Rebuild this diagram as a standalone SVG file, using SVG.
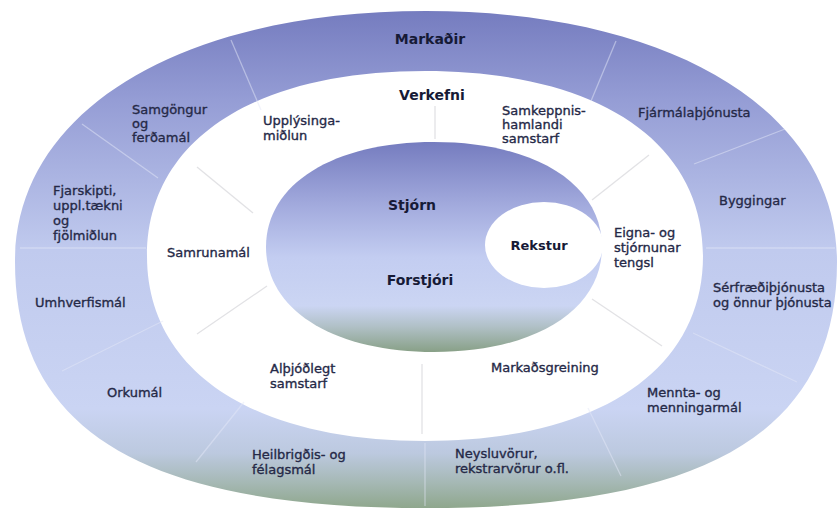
<svg xmlns="http://www.w3.org/2000/svg" width="839" height="508" viewBox="0 0 839 508">
  <defs>
    <!-- vertical fill: violet-blue at the top, pale blue in the middle, grey-green at the foot -->
    <linearGradient id="ringFill" gradientUnits="userSpaceOnUse" x1="0" y1="11" x2="0" y2="508">
      <stop offset="0" stop-color="#757cbf"/>
      <stop offset="0.18" stop-color="#959dd5"/>
      <stop offset="0.48" stop-color="#c0caee"/>
      <stop offset="0.8" stop-color="#cad4f3"/>
      <stop offset="0.89" stop-color="#bcc9df"/>
      <stop offset="0.95" stop-color="#a5b8b4"/>
      <stop offset="1" stop-color="#8fa78d"/>
    </linearGradient>
    <linearGradient id="coreFill" gradientUnits="userSpaceOnUse" x1="0" y1="142" x2="0" y2="352">
      <stop offset="0" stop-color="#757cbf"/>
      <stop offset="0.3" stop-color="#a2aadd"/>
      <stop offset="0.55" stop-color="#c3cdf1"/>
      <stop offset="0.78" stop-color="#cbd5f3"/>
      <stop offset="0.88" stop-color="#b0c0c6"/>
      <stop offset="1" stop-color="#88a087"/>
    </linearGradient>
    <style>
      .lbl { font-family: "DejaVu Sans", "Liberation Sans", sans-serif; font-size: 13px; fill: #252947; stroke: #252947; stroke-width: 0.35px; }
      .ttl { font-family: "DejaVu Sans", "Liberation Sans", sans-serif; font-size: 14px; font-weight: bold; fill: #161a36; text-anchor: middle; }
      .div-ring { stroke: #e4e8f7; stroke-width: 1.3; stroke-opacity: 0.5; fill: none; }
      .div-white { stroke: #e2e2e5; stroke-width: 1.3; fill: none; }
    </style>
  </defs>

  <rect width="839" height="508" fill="#ffffff"/>

  <!-- outer band: Markaðir -->
  <g id="markets-ring">
    <path fill="url(#ringFill)" fill-rule="evenodd"
      d="M 426,11 C 179.4,11 15,111.4 15,262 C 15,434 149,508 426,508 C 703,508 837,434 837,262 C 837,111.4 672.6,11 426,11 Z
         M 425,71 C 252.6,71 147,141.3 147,256 C 147,370.7 252.6,441 425,441 C 597.4,441 703,370.7 703,256 C 703,141.3 597.4,71 425,71 Z"/>
  </g>

  <!-- core: Stjórn / Forstjóri with the Rekstur cut-out -->
  <g id="core">
    <path fill="url(#coreFill)"
      d="M 434,142 C 333.2,142 266,184 266,247 C 266,310 333.2,352 434,352 C 534.8,352 602,310 602,247 C 602,184 534.8,142 434,142 Z"/>
  </g>
  <g id="rekstur">
    <ellipse cx="544" cy="245" rx="59" ry="43" fill="#ffffff"/>
    <text class="ttl" x="539" y="250" style="font-size:13px">Rekstur</text>
  </g>

  <!-- sector dividers -->
  <g id="connectors">
    <line class="div-ring" x1="231" y1="40" x2="261" y2="110"/>
    <line class="div-ring" x1="82" y1="124" x2="158" y2="178"/>
    <line class="div-ring" x1="20" y1="248" x2="146" y2="248"/>
    <line class="div-ring" x1="62" y1="371" x2="163" y2="321"/>
    <line class="div-ring" x1="196" y1="462" x2="244" y2="402"/>
    <line class="div-ring" x1="425" y1="443" x2="425" y2="506"/>
    <line class="div-ring" x1="588" y1="408" x2="621" y2="476"/>
    <line class="div-ring" x1="693" y1="333" x2="797" y2="382"/>
    <line class="div-ring" x1="706" y1="248" x2="835" y2="248"/>
    <line class="div-ring" x1="694" y1="164" x2="785" y2="129"/>
    <line class="div-ring" x1="616" y1="41" x2="591" y2="101"/>

    <line class="div-white" x1="435" y1="106" x2="435" y2="139"/>
    <line class="div-white" x1="197" y1="167" x2="253" y2="213"/>
    <line class="div-white" x1="267" y1="286" x2="197" y2="334"/>
    <line class="div-white" x1="422" y1="364" x2="422" y2="434"/>
    <line class="div-white" x1="592" y1="299" x2="662" y2="346"/>
    <line class="div-white" x1="649" y1="155" x2="592" y2="200"/>
  </g>

  <!-- titles -->
  <g id="markadir"><text class="ttl" x="430" y="44">Markaðir</text></g>
  <g id="verkefni"><text class="ttl" x="432" y="100">Verkefni</text></g>
  <g id="stjorn"><text class="ttl" x="412" y="210">Stjórn</text></g>
  <g id="forstjori"><text class="ttl" x="420" y="285">Forstjóri</text></g>

  <!-- outer band sectors -->
  <g id="samgongur">
    <text class="lbl"><tspan x="132" y="114">Samgöngur</tspan><tspan x="132" y="128">og</tspan><tspan x="132" y="142">ferðamál</tspan></text>
  </g>
  <g id="fjarskipti">
    <text class="lbl"><tspan x="53" y="195">Fjarskipti,</tspan><tspan x="53" y="210">uppl.tækni</tspan><tspan x="53" y="225">og</tspan><tspan x="53" y="240">fjölmiðlun</tspan></text>
  </g>
  <g id="umhverfismal"><text class="lbl" x="35" y="307">Umhverfismál</text></g>
  <g id="orkumal"><text class="lbl" x="107" y="397">Orkumál</text></g>
  <g id="heilbrigdis">
    <text class="lbl"><tspan x="252" y="459">Heilbrigðis- og</tspan><tspan x="252" y="474">félagsmál</tspan></text>
  </g>
  <g id="neysluvorur">
    <text class="lbl"><tspan x="455" y="458">Neysluvörur,</tspan><tspan x="455" y="473">rekstrarvörur o.fl.</tspan></text>
  </g>
  <g id="mennta">
    <text class="lbl"><tspan x="647" y="397">Mennta- og</tspan><tspan x="647" y="412">menningarmál</tspan></text>
  </g>
  <g id="serfraedi">
    <text class="lbl"><tspan x="713" y="292">Sérfræðiþjónusta</tspan><tspan x="713" y="307">og önnur þjónusta</tspan></text>
  </g>
  <g id="byggingar"><text class="lbl" x="719" y="205">Byggingar</text></g>
  <g id="fjarmala"><text class="lbl" x="638" y="117">Fjármálaþjónusta</text></g>

  <!-- white band sectors -->
  <g id="upplysinga">
    <text class="lbl"><tspan x="263" y="125">Upplýsinga-</tspan><tspan x="263" y="140">miðlun</tspan></text>
  </g>
  <g id="samkeppnis">
    <text class="lbl"><tspan x="502" y="115">Samkeppnis-</tspan><tspan x="502" y="129">hamlandi</tspan><tspan x="502" y="143">samstarf</tspan></text>
  </g>
  <g id="samrunamal"><text class="lbl" x="167" y="257">Samrunamál</text></g>
  <g id="eigna">
    <text class="lbl"><tspan x="614" y="237">Eigna- og</tspan><tspan x="614" y="252">stjórnunar</tspan><tspan x="614" y="267">tengsl</tspan></text>
  </g>
  <g id="markadsgreining"><text class="lbl" x="491" y="372">Markaðsgreining</text></g>
  <g id="althjodlegt">
    <text class="lbl"><tspan x="270" y="373">Alþjóðlegt</tspan><tspan x="270" y="388">samstarf</tspan></text>
  </g>
</svg>
